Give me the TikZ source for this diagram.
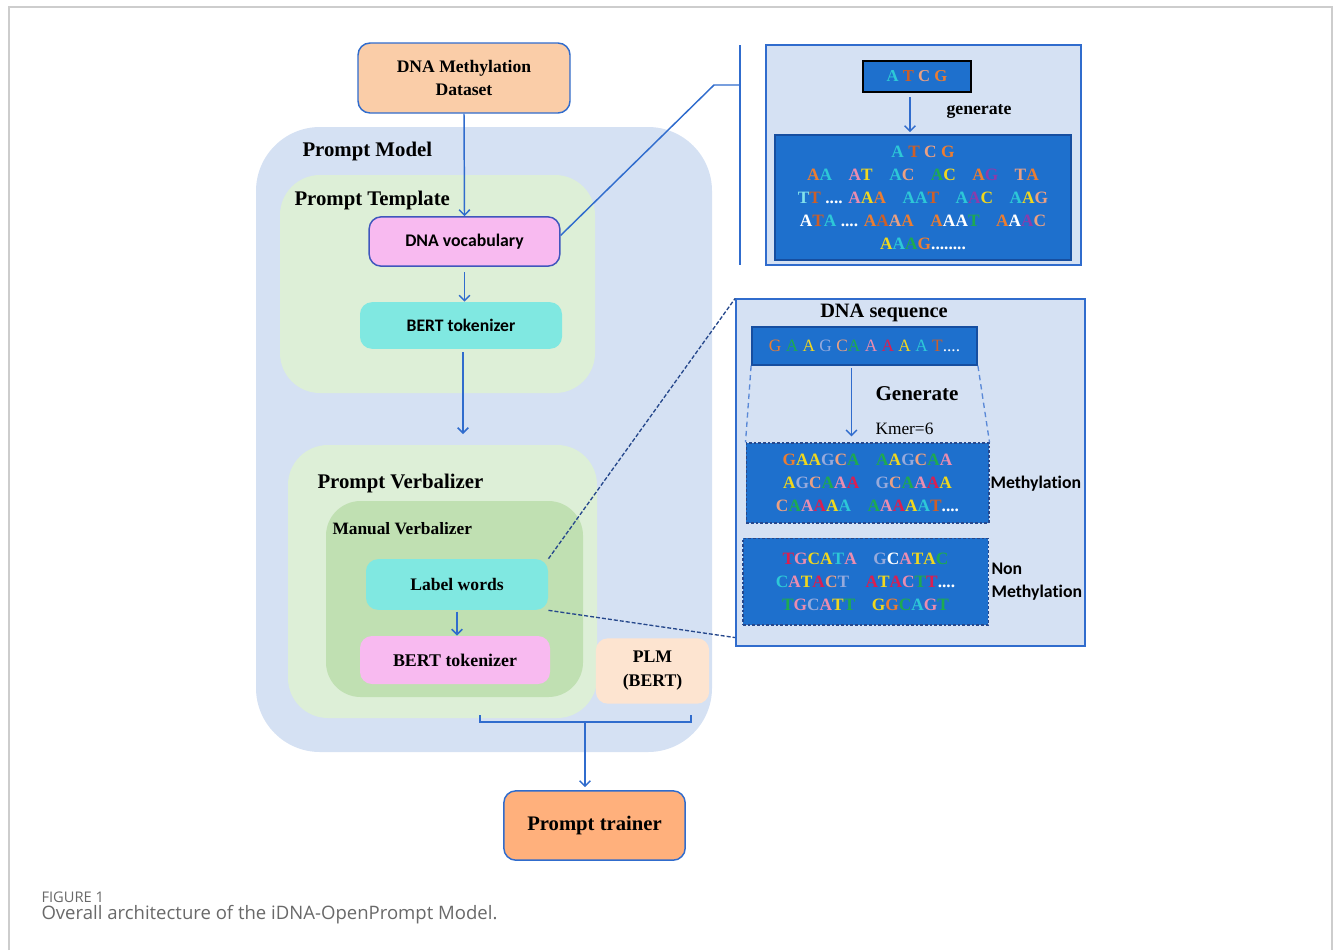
\documentclass[tikz,border=0pt]{standalone}
\usepackage{fontspec}
\setmainfont{Liberation Serif}
\newfontfamily\calfont[Ligatures=NoCommon]{Carlito}
\newfontfamily\capfont{Open Sans}
\usetikzlibrary{arrows.meta,calc}

\definecolor{modelblue}{RGB}{213,225,243}
\definecolor{tmplgreen}{RGB}{221,239,215}
\definecolor{manualgreen}{RGB}{192,224,178}
\definecolor{peachbox}{RGB}{250,205,168}
\definecolor{pinkbox}{RGB}{248,186,240}
\definecolor{cyanbox}{RGB}{128,232,225}
\definecolor{plmpeach}{RGB}{253,228,208}
\definecolor{trainorange}{RGB}{255,176,124}
\definecolor{linkblue}{RGB}{48,108,205}
\definecolor{boxblue}{RGB}{30,112,205}
\definecolor{boxedge}{RGB}{22,78,160}
\definecolor{dashdark}{RGB}{38,72,140}
\definecolor{framegray}{RGB}{205,205,205}
\definecolor{capgray}{RGB}{105,105,105}
% letter colours
\definecolor{kcy}{RGB}{45,200,215}
\definecolor{kbr}{RGB}{205,95,40}
\definecolor{kpe}{RGB}{235,160,130}
\definecolor{kor}{RGB}{235,125,50}
\definecolor{kpk}{RGB}{235,140,175}
\definecolor{kye}{RGB}{240,215,30}
\definecolor{kgr}{RGB}{30,170,80}
\definecolor{kpu}{RGB}{140,60,170}
\definecolor{kcr}{RGB}{220,30,80}
\definecolor{klb}{RGB}{150,170,220}
\definecolor{klc}{RGB}{130,225,235}

\newcommand{\kCy}[1]{\textcolor{kcy}{#1}}
\newcommand{\kBr}[1]{\textcolor{kbr}{#1}}
\newcommand{\kPe}[1]{\textcolor{kpe}{#1}}
\newcommand{\kOr}[1]{\textcolor{kor}{#1}}
\newcommand{\kPk}[1]{\textcolor{kpk}{#1}}
\newcommand{\kYe}[1]{\textcolor{kye}{#1}}
\newcommand{\kGr}[1]{\textcolor{kgr}{#1}}
\newcommand{\kPu}[1]{\textcolor{kpu}{#1}}
\newcommand{\kCr}[1]{\textcolor{kcr}{#1}}
\newcommand{\kLb}[1]{\textcolor{klb}{#1}}
\newcommand{\kLc}[1]{\textcolor{klc}{#1}}
\newcommand{\kWh}[1]{\textcolor{white}{#1}}
\newcommand{\gp}{\hspace{0.95em}}

\tikzset{every picture/.style={line width=0.75pt}}
\tikzset{
  rbox/.style={rounded corners=9pt, align=center, inner sep=0pt},
  dnabox/.style={fill=boxblue, align=center, inner sep=0pt, text=white},
  ttl/.style={inner sep=0pt, anchor=west, font=\fontsize{15.6}{19}\selectfont\bfseries},
  link/.style={linkblue, line width=1.1pt},
  arr/.style={link, -{Straight Barb[length=4pt,width=8pt]}},
  guide/.style={linkblue!80, line width=1pt, dash pattern=on 4pt off 3pt},
  hint/.style={dashdark, line width=1pt, dash pattern=on 3pt off 1.5pt},
}

\begin{document}
\begin{tikzpicture}[x=0.75pt,y=0.75pt,yscale=-1,xscale=1]
\useasboundingbox (0,0) rectangle (1333,950);

%Shape: Frame
\draw [framegray, line width=1.5pt] (9,950) -- (9,7) -- (1332,7) -- (1332,950);

%Shape: Rounded Rect [prompt model]
\fill [modelblue, rounded corners=48pt] (256,127) rectangle (712,752);
%Shape: Rounded Rect [prompt template]
\fill [tmplgreen, rounded corners=30pt] (280,175) rectangle (595,393);
%Shape: Rounded Rect [prompt verbalizer]
\fill [tmplgreen, rounded corners=30pt] (288,445) rectangle (597,718);
%Shape: Rounded Rect [manual verbalizer]
\fill [manualgreen, rounded corners=26pt] (326,501) rectangle (583,697);

% Text Node
\node [ttl] (tmodel) at (302,151) {Prompt Model};
\node [ttl] (ttmpl) at (294,200) {Prompt Template};
\node [ttl] (tverb) at (317,483) {Prompt Verbalizer};
\node [ttl, font=\fontsize{13}{16}\selectfont\bfseries] (tmanual) at (332,529) {Manual Verbalizer};

%Boxes
\node [rbox, draw=linkblue, line width=1.1pt, fill=peachbox, minimum width=159pt, minimum height=52.5pt, font=\fontsize{13.2}{17}\selectfont\bfseries] (dataset) at (464,78) {DNA Methylation\\Dataset};
\node [rbox, draw=linkblue!80!violet, line width=1.1pt, fill=pinkbox, minimum width=143pt, minimum height=37pt, font=\calfont\fontsize{13.3}{16}\selectfont\bfseries] (vocab) at (464.5,241.5) {DNA vocabulary};
\node [rbox, fill=cyanbox, minimum width=151.5pt, minimum height=35pt, font=\calfont\fontsize{13.2}{16}\selectfont\bfseries] (bertA) at (461,325.5) {BERT tokenizer};
\node [rbox, fill=cyanbox, minimum width=136.5pt, minimum height=38pt, font=\fontsize{13.2}{16}\selectfont\bfseries] (label) at (457,584.5) {Label words};
\node [rbox, fill=pinkbox, minimum width=142.5pt, minimum height=36pt, font=\fontsize{13.4}{16}\selectfont\bfseries] (bertB) at (455,660) {BERT tokenizer};
\node [rbox, fill=plmpeach, minimum width=85pt, minimum height=49pt, font=\fontsize{13.3}{18}\selectfont\bfseries] (plm) at (652.5,671) {PLM\\(BERT)};
\node [rbox, draw=linkblue, line width=1.1pt, fill=trainorange, minimum width=136pt, minimum height=52pt, font=\fontsize{15.5}{18}\selectfont\bfseries] (trainer) at (594.5,825.5) {Prompt trainer};

%Connectors
\coordinate (verbin) at (463,434);
\draw [arr] (dataset.south) -- (vocab.north);
\draw [arr, shorten <=4pt] (vocab.south) -- (vocab.south |- bertA.north);
\draw [arr, shorten <=2pt] ($(bertA.south)+(2,0)$) -- (verbin);
\draw [arr, shorten <=1pt] (label.south) -- (label.south |- bertB.north);

%Bracket
\coordinate (brl) at (480,715);
\coordinate (brr) at (691,715);
\coordinate (brm) at (585,722);
\draw [link] (brl) -- (brl |- brm) -- (brr |- brm) -- (brr);
\draw [arr] (brm) -- ($(brm |- trainer.north)+(0,-3)$);

%Right top: vocabulary panel
\coordinate (bartop) at (740,45);
\coordinate (barbot) at (740,265);
\coordinate (barmid) at (740,85);
\coordinate (bend) at (714,85);
\draw [link] (bartop) -- (barbot);
\draw [link] ($(vocab.east)+(0,-6)$) -- (bend) -- (barmid);

\node [draw=linkblue, line width=1.1pt, fill=modelblue, minimum width=236pt, minimum height=165pt, inner sep=0pt] (panelA) at (923.5,155) {};
\node [dnabox, draw=black, line width=1.5pt, minimum width=81pt, minimum height=23pt, font=\fontsize{12.5}{15}\selectfont\bfseries] (atcg) at (917,76.5) {\kCy{A} \kBr{T} \kPe{C} \kOr{G}};
\node [dnabox, draw=boxedge, line width=1.1pt, minimum width=222pt, minimum height=94pt, font=\fontsize{13}{17.25}\selectfont\bfseries] (kmers) at (923,197.5) {%
\kCy{A} \kBr{T} \kPe{C} \kOr{G}\\
\kOr{A}\kCy{A}\gp\kPk{A}\kYe{T}\gp\kCy{A}\kPe{C}\gp\kGr{A}\kYe{C}\gp\kOr{A}\kPu{G}\gp\kPe{T}\kOr{A}\\
\kLc{T}\kBr{T} .... \kPk{A}\kYe{A}\kOr{A}\gp\kCy{A}\kCy{A}\kBr{T}\gp\kCy{A}\kPu{A}\kYe{C}\gp\kCy{A}\kYe{A}\kPe{G}\\
\kWh{A}\kBr{T}\kCy{A} .... \kOr{A}\kBr{A}\kPe{A}\kOr{A}\gp\kOr{A}\kWh{A}\kWh{A}\kGr{T}\gp\kOr{A}\kWh{A}\kPu{A}\kPe{C}\\
\kYe{A}\kCy{A}\kGr{A}\kOr{G}........};
\draw [arr, shorten <=3pt] ($(atcg.south)+(-7,0)$) -- ($(atcg.south |- kmers.north)+(-7,-2)$);
\node [ttl, font=\fontsize{13.3}{16}\selectfont\bfseries] (tgen) at (946,111) {generate};

%Right middle: sequence panel
\node [draw=linkblue, line width=1.1pt, fill=modelblue, minimum width=262pt, minimum height=260pt, inner sep=0pt] (panelB) at (910.5,472.5) {};
\node [inner sep=0pt, font=\fontsize{15.3}{18}\selectfont\bfseries] (tseq) at (884,313) {DNA sequence};
\node [dnabox, draw=boxedge, line width=1.1pt, minimum width=169pt, minimum height=28.5pt, font=\fontsize{13}{15}\selectfont] (seqbox) at (864.5,346) {\kOr{G} \kGr{A} \kYe{A} \kLb{G} \kPe{C}\kGr{A} \kPk{A} \kCr{A} \kYe{A} \kCy{A} \kBr{T}....};
\node [dnabox, draw=dashdark, line width=1pt, dash pattern=on 2pt off 1.5pt, minimum width=182pt, minimum height=60pt, font=\fontsize{13}{17.25}\selectfont\bfseries] (methbox) at (867.5,483) {%
\kOr{G}\kYe{A}\kYe{A}\kLb{G}\kPe{C}\kGr{A}\gp\kGr{A}\kYe{A}\kLb{G}\kPe{C}\kGr{A}\kPk{A}\\
\kYe{A}\kLb{G}\kPe{C}\kGr{A}\kPk{A}\kCr{A}\gp\kLb{G}\kPe{C}\kGr{A}\kPk{A}\kCr{A}\kYe{A}\\
\kPe{C}\kGr{A}\kPk{A}\kCr{A}\kYe{A}\kCy{A}\gp\kGr{A}\kPk{A}\kCr{A}\kYe{A}\kCy{A}\kBr{T}....};
\node [dnabox, draw=dashdark, line width=1pt, dash pattern=on 2pt off 1.5pt, minimum width=184pt, minimum height=65pt, font=\fontsize{13}{17.25}\selectfont\bfseries] (nonbox) at (865.5,581.5) {%
\kCr{T}\kPk{G}\kYe{C}\kYe{A}\kCy{T}\kPk{A}\gp\kLb{G}\kWh{C}\kPk{A}\kYe{T}\kYe{A}\kGr{C}\\
\kCy{C}\kPk{A}\kYe{T}\kCr{A}\kPe{C}\kLb{T}\gp\kCr{A}\kYe{T}\kCr{A}\kPk{C}\kGr{T}\kCr{T}....\\
\kGr{T}\kPk{G}\kLb{C}\kPk{A}\kYe{T}\kGr{T}\gp\kYe{G}\kOr{G}\kGr{C}\kCy{A}\kPk{G}\kGr{T}};
\draw [guide] (seqbox.south west) -- (methbox.north west);
\draw [guide] (seqbox.south east) -- (methbox.north east);
\draw [arr, shorten <=2pt] ($(seqbox.south)+(-13,0)$) -- ($(seqbox.south |- methbox.north)+(-13,-6)$);
\node [ttl, font=\fontsize{15.8}{19}\selectfont\bfseries] (tgenB) at (875,394) {Generate};
\node [ttl, font=\fontsize{13}{16}\selectfont] (tkmer) at (875,429) {Kmer=6};
\node [ttl, font=\calfont\fontsize{13.3}{17}\selectfont\bfseries] (tmeth) at (990,484) {Methylation};
\node [ttl, align=left, font=\calfont\fontsize{13.3}{17.25}\selectfont\bfseries] (tnon) at (991,581.5) {Non\\Methylation};

%Hint lines from label words
\draw [hint] (label.north east) -- (panelB.north west);
\draw [hint] (label.south east) -- ($(panelB.south west)+(0,-9)$);

% Caption
\node [inner sep=0pt, anchor=west, text=capgray, font=\capfont\fontsize{11}{13}\selectfont] (figno) at (41,897) {FIGURE 1};
\node [inner sep=0pt, anchor=west, text=capgray, font=\capfont\fontsize{13.9}{16}\selectfont] (caption) at (41,915) {Overall architecture of the iDNA-OpenPrompt Model.};

\end{tikzpicture}
\end{document}
